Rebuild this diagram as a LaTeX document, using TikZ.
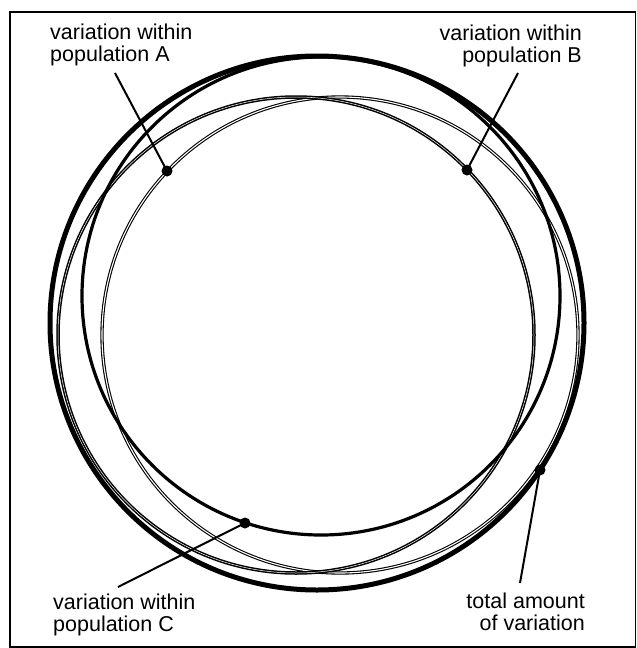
\documentclass[tikz,border=0pt]{standalone}
\usepackage{fontspec}
\setmainfont{Liberation Sans}
\usepackage{tikz}
\tikzset{
  outerframe/.style={draw, line width=1.8pt},
  totalring/.style={draw, line width=5pt},
  ringA/.style={draw, double=white, double distance=1.1pt, line width=1.1pt},
  ringB/.style={draw, double=white, double distance=0.5pt, line width=1.5pt},
  ringC/.style={draw, line width=3.2pt},
  leader/.style={draw, line width=2pt},
  dotmark/.style={fill=black},
  varlabel/.style={font=\fontsize{21.5}{22}\selectfont, inner sep=0pt}
}

\begin{document}
\begin{tikzpicture}[x=1pt,y=-1pt]
  \useasboundingbox (0,0) rectangle (637,648);
  \draw[outerframe] (10,12) rectangle (635.5,647);

  % centres of the rings
  \coordinate (cTot) at (317,323);
  \coordinate (cA) at (340,335);
  \coordinate (cB) at (296,335);
  \coordinate (cC) at (321,296);

  \draw[ringA] (cA) circle[radius=238pt];
  \draw[ringB] (cB) circle[radius=238pt];
  \draw[ringC] (cC) circle[radius=239pt];
  \draw[totalring] (cTot) circle[radius=267pt];

  % anchor "base" sits on the last line
  \node[varlabel, anchor=base west, align=left] (labA) at (50,61) {variation within\\population A};
  \node[varlabel, anchor=base east, align=right] (labB) at (582,62) {variation within\\population B};
  \node[varlabel, anchor=base west, align=left] (labC) at (53,631) {variation within\\population C};
  \node[varlabel, anchor=base east, align=right] (labTot) at (585,630) {total amount\\of variation};

  \coordinate (tipA) at (115,73);
  \coordinate (tipB) at (518,73);
  \coordinate (tipC) at (118,587);
  \coordinate (tipTot) at (520,583);

  \coordinate (dotA) at (167,171);
  \coordinate (dotB) at (467,170);
  \coordinate (dotC) at (245,523);
  \coordinate (dotTot) at (540,470);

  \draw[leader] (tipA) -- (dotA);
  \draw[leader] (tipB) -- (dotB);
  \draw[leader] (tipC) -- (dotC);
  \draw[leader] (tipTot) -- (dotTot);

  \foreach \d in {dotA,dotB,dotC,dotTot}
    \fill[dotmark] (\d) circle[radius=5.5pt];
\end{tikzpicture}
\end{document}
